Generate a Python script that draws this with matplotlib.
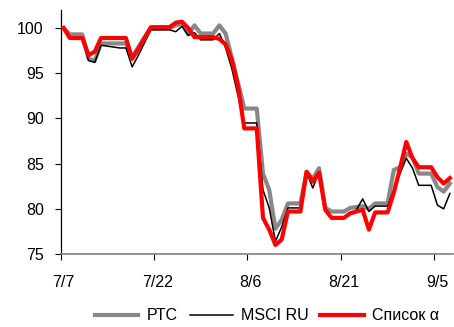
import matplotlib
matplotlib.use("Agg")
import matplotlib.pyplot as plt
import numpy as np

plt.rcParams['font.family'] = ['Liberation Sans', 'DejaVu Sans']

# day offsets from 7/7 (daily, calendar days)
tick_labels = ["7/7", "7/22", "8/6", "8/21", "9/5"]
tick_days = [0, 15, 30, 45, 60]

rts = [100, 99.3, 99.3, 99.3, 96.6, 96.4, 98.3, 98.3, 98.3, 98.3,
       98.3, 96.8, 97.9, 99.0, 100.0, 100.0, 100.0, 100.0, 100.3, 100.5,
       99.3, 100.3, 99.4, 99.4, 99.4, 100.3, 99.4, 96.7, 93.9, 91.1,
       91.1, 91.1, 83.9, 82.1, 77.8, 78.8, 80.6, 80.6, 80.6, 84.1,
       83.3, 84.5, 80.1, 79.7, 79.7, 79.7, 80.1, 80.2, 80.3, 80.0,
       80.6, 80.6, 80.6, 84.3, 84.6, 86.1, 85.7, 83.9, 83.9, 83.9,
       82.4, 81.9, 82.8]

msci = [100, 98.8, 98.8, 98.8, 96.4, 96.2, 98.1, 98.0, 97.9, 97.8,
        97.8, 95.7, 97.0, 98.4, 99.8, 99.8, 99.8, 99.8, 99.6, 100.2,
        99.2, 99.5, 98.7, 98.7, 98.7, 99.4, 97.8, 95.5, 92.5, 89.5,
        89.5, 89.5, 82.1, 80.1, 76.4, 78.0, 80.1, 80.1, 80.1, 84.0,
        82.3, 84.1, 79.7, 79.1, 79.1, 79.1, 79.4, 79.9, 81.1, 79.7,
        80.3, 80.3, 80.3, 82.1, 83.9, 85.6, 84.5, 82.6, 82.6, 82.6,
        80.4, 80.0, 81.7]

alpha = [100, 98.9, 98.9, 98.9, 97.0, 97.4, 98.9, 98.9, 98.9, 98.9,
         98.9, 96.6, 97.7, 98.9, 100.1, 100.1, 100.1, 100.1, 100.6, 100.7,
         100.0, 99.0, 99.0, 99.0, 99.0, 98.8, 98.2, 96.5, 93.5, 88.9,
         88.9, 88.9, 79.0, 77.7, 76.0, 76.6, 79.7, 79.7, 79.7, 84.1,
         83.0, 84.0, 79.9, 79.0, 79.0, 79.0, 79.5, 79.7, 79.9, 77.7,
         79.6, 79.6, 79.6, 81.8, 84.5, 87.4, 85.6, 84.6, 84.6, 84.6,
         83.5, 82.8, 83.4]

series_names = ["РТС", "MSCI RU", "Список α"]

days = np.arange(len(rts))

fig = plt.figure(figsize=(4.54, 3.27), dpi=100)
ax = fig.add_axes([0.1333, 0.2232, 0.8645, 0.7462])

ax.plot(days, rts, color="#888888", lw=3.0, solid_joinstyle="round", label=series_names[0], zorder=2)
ax.plot(days, msci, color="black", lw=1.1, label=series_names[1], zorder=3)
ax.plot(days, alpha, color="#ff0000", lw=3.0, solid_joinstyle="round", label=series_names[2], zorder=4)

ax.set_xlim(-0.5, len(rts) - 0.5)
ax.set_ylim(75, 102)
ax.set_yticks([75, 80, 85, 90, 95, 100])
ax.tick_params(axis='y', labelsize=11.5, length=4, width=0.8, pad=8, direction='out')

# tick marks at day boundaries, labels centred on data days
ax.set_xticks([d - 0.5 for d in tick_days])
ax.set_xticklabels([])
ax.set_xticks(tick_days, minor=True)
ax.set_xticklabels(tick_labels, minor=True)
ax.tick_params(axis='x', which='major', length=4, width=0.8, direction='out')
ax.tick_params(axis='x', which='minor', length=0, labelsize=11.5, pad=15)

for s in ['top', 'right']:
    ax.spines[s].set_visible(False)
ax.spines['left'].set_linewidth(0.9)
ax.spines['bottom'].set_color('#808080')
ax.spines['bottom'].set_linewidth(1.2)

fig.legend(loc='center', bbox_to_anchor=(0.588, 0.034), ncol=3, frameon=False,
           fontsize=11.5, handlelength=2.7, handletextpad=0.5, columnspacing=0.75,
           borderpad=0, borderaxespad=0)

fig.savefig("out.png", dpi=100)
